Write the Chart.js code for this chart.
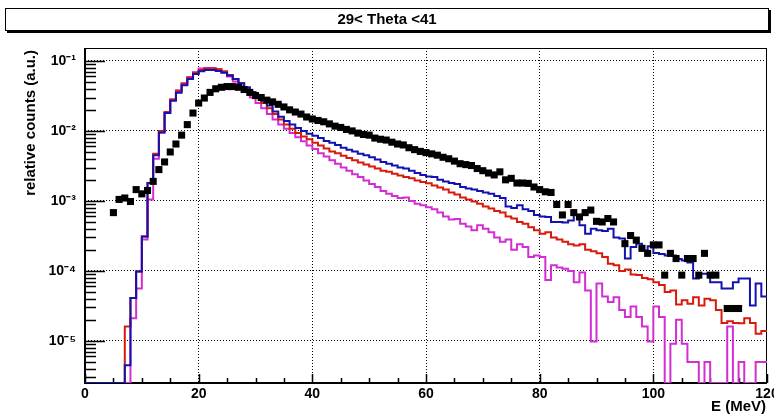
<!DOCTYPE html>
<html>
<head>
<meta charset="utf-8">
<script src="https://cdn.jsdelivr.net/npm/chart.js@4.4.1/dist/chart.umd.min.js"></script>
<style>
  html, body { margin: 0; padding: 0; background: #fff; }
  #wrap { width: 774px; height: 416px; }
</style>
</head>
<body>
<div id="wrap"><canvas id="spectrum" width="774" height="416"></canvas></div>
<script>
// axis ranges (MeV, relative counts)
const xMin = 0, xMax = 120;
const yMin = 2.5e-6, yMax = 0.153;
const decadeTicks = [1e-5, 1e-4, 1e-3, 1e-2, 1e-1];
const decadeLabels = ['10\u207B\u2075', '10\u207B\u2074', '10\u207B\u00B3', '10\u207B\u00B2', '10\u207B\u00B9'];
const xMajorTicks = [0, 20, 40, 60, 80, 100, 120];
const titleText = '29< Theta <41';

// 1 MeV bins starting at 0 MeV, 120 bins
const binStart = 0;
const blueCounts = [
  0, 0, 0, 0, 0, 0, 0, 4.5e-6, 4.1e-5, 9.8e-5,
  3.1e-4, 1.8e-3, 4.5e-3, 9.5e-3, 1.8e-2, 2.7e-2, 3.5e-2, 4.5e-2, 5.5e-2, 6.5e-2,
  7.1e-2, 7.4e-2, 7.4e-2, 7.2e-2, 6.8e-2, 6.2e-2, 5.5e-2, 4.8e-2, 4.2e-2, 3.6e-2,
  3.2e-2, 2.7e-2, 2.3e-2, 1.9e-2, 1.6e-2, 1.38e-2, 1.23e-2, 1.1e-2, 1.0e-2, 9.1e-3,
  8.5e-3, 7.9e-3, 7.2e-3, 6.8e-3, 6.3e-3, 5.75e-3, 5.4e-3, 5.1e-3, 4.7e-3, 4.5e-3,
  4.2e-3, 3.9e-3, 3.6e-3, 3.4e-3, 3.2e-3, 3.0e-3, 2.9e-3, 2.7e-3, 2.5e-3, 2.35e-3,
  2.24e-3, 2.2e-3, 2.0e-3, 1.9e-3, 1.8e-3, 1.74e-3, 1.58e-3, 1.5e-3, 1.45e-3, 1.38e-3,
  1.32e-3, 1.26e-3, 1.17e-3, 1.1e-3, 8.3e-4, 7.9e-4, 8.7e-4, 7.6e-4, 7.2e-4, 6.3e-4,
  6.0e-4, 5.9e-4, 5.0e-4, 5.0e-4, 4.9e-4, 5.25e-4, 6.3e-4, 4.5e-4, 3.4e-4, 4.0e-4,
  3.8e-4, 3.7e-4, 4.0e-4, 3.0e-4, 2.9e-4, 1.5e-4, 2.2e-4, 2.45e-4, 1.95e-4, 2.24e-4,
  1.8e-4, 1.74e-4, 1.66e-4, 1.66e-4, 1.48e-4, 1.41e-4, 1.32e-4, 7.8e-5, 9.1e-5, 9.1e-5,
  6.9e-5, 6.9e-5, 5.6e-5, 5.6e-5, 6.9e-5, 7.8e-5, 7.8e-5, 3.2e-5, 6.6e-5, 4.3e-5
];
const redCounts = [
  0, 0, 0, 0, 0, 0, 0, 1.6e-5, 4.1e-5, 9.8e-5,
  3.1e-4, 1.8e-3, 4.7e-3, 1.0e-2, 1.86e-2, 2.8e-2, 3.7e-2, 4.7e-2, 5.75e-2, 6.8e-2,
  7.4e-2, 7.8e-2, 7.8e-2, 7.6e-2, 7.1e-2, 6.3e-2, 5.5e-2, 4.8e-2, 4.1e-2, 3.5e-2,
  2.95e-2, 2.5e-2, 2.1e-2, 1.74e-2, 1.45e-2, 1.23e-2, 1.07e-2, 9.3e-3, 8.3e-3, 7.6e-3,
  6.8e-3, 6.2e-3, 5.6e-3, 5.1e-3, 4.8e-3, 4.4e-3, 4.1e-3, 3.8e-3, 3.55e-3, 3.3e-3,
  3.1e-3, 2.9e-3, 2.7e-3, 2.6e-3, 2.45e-3, 2.3e-3, 2.2e-3, 2.1e-3, 1.95e-3, 1.86e-3,
  1.78e-3, 1.66e-3, 1.55e-3, 1.45e-3, 1.32e-3, 1.23e-3, 1.12e-3, 1.05e-3, 9.8e-4, 9.1e-4,
  8.3e-4, 7.8e-4, 7.2e-4, 6.8e-4, 6.0e-4, 5.6e-4, 5.0e-4, 4.7e-4, 4.2e-4, 3.8e-4,
  3.4e-4, 3.55e-4, 3.0e-4, 2.8e-4, 2.6e-4, 2.4e-4, 2.3e-4, 2.4e-4, 2.0e-4, 1.9e-4,
  1.78e-4, 1.58e-4, 1.26e-4, 1.2e-4, 1.0e-4, 1.05e-4, 8.9e-5, 8.7e-5, 7.9e-5, 7.6e-5,
  6.9e-5, 6.3e-5, 5.0e-5, 5.25e-5, 3.3e-5, 3.8e-5, 3.4e-5, 4.2e-5, 3.2e-5, 4.0e-5,
  3.8e-5, 2.75e-5, 1.8e-5, 1.9e-5, 1.8e-5, 1.78e-5, 2.1e-5, 1.8e-5, 1.26e-5, 1.38e-5
];
const magentaCounts = [
  0, 0, 0, 0, 0, 0, 0, 0, 2.1e-5, 5.6e-5,
  2.8e-4, 1.05e-3, 4.0e-3, 9.5e-3, 1.8e-2, 2.8e-2, 3.8e-2, 4.8e-2, 5.9e-2, 6.9e-2,
  7.8e-2, 7.9e-2, 7.9e-2, 7.6e-2, 6.9e-2, 6.0e-2, 5.1e-2, 4.4e-2, 3.6e-2, 3.0e-2,
  2.5e-2, 2.1e-2, 1.74e-2, 1.45e-2, 1.23e-2, 1.07e-2, 9.3e-3, 8.1e-3, 7.1e-3, 6.2e-3,
  5.5e-3, 4.8e-3, 4.3e-3, 3.8e-3, 3.4e-3, 3.0e-3, 2.7e-3, 2.4e-3, 2.2e-3, 1.95e-3,
  1.74e-3, 1.58e-3, 1.38e-3, 1.26e-3, 1.17e-3, 1.1e-3, 1.12e-3, 1.0e-3, 9.1e-4, 8.7e-4,
  8.1e-4, 7.6e-4, 6.8e-4, 6.0e-4, 5.4e-4, 5.5e-4, 4.7e-4, 4.3e-4, 3.8e-4, 4.5e-4,
  4.0e-4, 3.55e-4, 3.0e-4, 2.6e-4, 2.8e-4, 2.0e-4, 2.4e-4, 2.2e-4, 1.58e-4, 1.66e-4,
  1.58e-4, 7.4e-5, 1.2e-4, 1.12e-4, 1.07e-4, 1.0e-4, 6.9e-5, 9.5e-5, 5.25e-5, 9.8e-6,
  6.6e-5, 4.3e-5, 3.6e-5, 4.2e-5, 2.75e-5, 2.2e-5, 3.1e-5, 2.2e-5, 1.6e-5, 9.8e-6,
  3.1e-5, 2.2e-5, 0, 9.1e-6, 2.0e-5, 9.1e-6, 5.0e-6, 5.0e-6, 0, 5.0e-6,
  0, 0, 0, 1.6e-5, 0, 5.0e-6, 0, 0, 5.0e-6, 5.0e-6
];

// measured points, one per MeV starting at 5 MeV (null = no entry)
const dataFirstE = 5;
const dataCounts = [
  6.8e-4, 1.05e-3, 1.1e-3, 9.8e-4, 1.45e-3, 1.26e-3, 1.41e-3, 1.9e-3, 2.8e-3, 3.6e-3,
  5.0e-3, 6.5e-3, 8.7e-3, 1.23e-2, 1.8e-2, 2.5e-2, 2.95e-2, 3.55e-2, 4.0e-2, 4.2e-2,
  4.3e-2, 4.3e-2, 4.2e-2, 3.9e-2, 3.55e-2, 3.2e-2, 3.0e-2, 2.75e-2, 2.6e-2, 2.4e-2,
  2.2e-2, 2.0e-2, 1.86e-2, 1.74e-2, 1.58e-2, 1.48e-2, 1.41e-2, 1.35e-2, 1.26e-2, 1.17e-2,
  1.12e-2, 1.05e-2, 1.0e-2, 9.3e-3, 8.9e-3, 8.7e-3, 7.9e-3, 7.6e-3, 7.4e-3, 6.9e-3,
  6.5e-3, 6.3e-3, 5.75e-3, 5.4e-3, 5.1e-3, 4.9e-3, 4.7e-3, 4.5e-3, 4.2e-3, 4.0e-3,
  3.7e-3, 3.4e-3, 3.3e-3, 3.2e-3, 2.9e-3, 2.7e-3, 2.5e-3, 2.35e-3, 2.6e-3, 2.0e-3,
  2.1e-3, 1.8e-3, 1.8e-3, 1.78e-3, 1.58e-3, 1.45e-3, 1.35e-3, 1.32e-3, 8.9e-4, 6.3e-4,
  8.9e-4, 6.8e-4, 5.9e-4, 6.8e-4, 7.4e-4, 5.1e-4, 5.0e-4, 5.6e-4, 5.0e-4, null,
  2.45e-4, 3.2e-4, 2.75e-4, 2.1e-4, 1.78e-4, 2.35e-4, 2.35e-4, 8.7e-5, 1.78e-4, 1.5e-4,
  8.7e-5, 1.5e-4, 1.5e-4, 8.7e-5, 1.78e-4, 8.7e-5, 8.7e-5, null, 2.9e-5, 2.9e-5,
  2.9e-5
];

const fontFamily = "'Liberation Sans', Arial, Helvetica, sans-serif";

// empty bins sit on the lower frame edge like in ROOT
function histPoints(counts) {
  const pts = counts.map((v, i) => ({ x: binStart + i, y: v > 0 ? v : yMin }));
  pts.push({ x: binStart + counts.length, y: pts[pts.length - 1].y });
  return pts;
}

const dataPoints = dataCounts.map((v, i) => ({ x: dataFirstE + i, y: v }));

// log axis tick positions: decades plus 2..9 sub-ticks
const yTickValues = [];
for (let e = -6; e <= -1; e++) {
  for (let m = 1; m <= 9; m++) {
    const v = m * Math.pow(10, e);
    if (v >= yMin && v <= yMax) yTickValues.push(Number(v.toPrecision(3)));
  }
}
const xTickValues = [];
for (let v = xMin; v <= xMax; v += 5) xTickValues.push(v);

function isDecade(v) {
  return decadeTicks.findIndex(d => Math.abs(v / d - 1) < 1e-6);
}

const rootStyle = {
  id: 'rootStyle',
  beforeDraw(chart) {
    const ctx = chart.ctx;
    ctx.save();
    ctx.fillStyle = '#fff';
    ctx.fillRect(0, 0, chart.width, chart.height);
    // title pave with shadow
    ctx.fillStyle = '#000';
    ctx.fillRect(7, 31, 764, 2);
    ctx.fillRect(769, 10, 2, 23);
    ctx.fillStyle = '#fff';
    ctx.fillRect(5, 8, 764, 23);
    ctx.strokeStyle = '#000';
    ctx.lineWidth = 1;
    ctx.strokeRect(5.5, 8.5, 763, 22);
    ctx.fillStyle = '#000';
    ctx.font = 'bold 15px ' + fontFamily;
    ctx.textAlign = 'center';
    ctx.textBaseline = 'middle';
    ctx.fillText(titleText, 387, 20);
    ctx.restore();
  },
  beforeDatasetsDraw(chart) {
    const ctx = chart.ctx;
    const a = chart.chartArea;
    const xs = chart.scales.x, ys = chart.scales.y;
    ctx.save();
    ctx.strokeStyle = '#000';
    ctx.lineWidth = 1;
    ctx.strokeRect(a.left + 0.5, a.top + 0.5, a.right - a.left - 1, a.bottom - a.top - 1);
    ctx.lineWidth = 2;
    ctx.beginPath();
    ctx.moveTo(a.left, a.top);
    ctx.lineTo(a.left, a.bottom);
    ctx.lineTo(a.right, a.bottom);
    ctx.stroke();
    ctx.lineWidth = 1.5;
    ctx.beginPath();
    yTickValues.forEach(v => {
      const y = Math.round(ys.getPixelForValue(v)) + 0.5;
      const len = isDecade(v) >= 0 ? 20 : 11;
      ctx.moveTo(a.left, y);
      ctx.lineTo(a.left + len, y);
    });
    xTickValues.forEach(v => {
      const x = Math.round(xs.getPixelForValue(v)) + 0.5;
      const len = v % 20 === 0 ? 9 : 5;
      ctx.moveTo(x, a.bottom);
      ctx.lineTo(x, a.bottom - len);
    });
    ctx.stroke();
    // axis titles
    ctx.fillStyle = '#000';
    ctx.font = 'bold 15px ' + fontFamily;
    ctx.textBaseline = 'middle';
    ctx.textAlign = 'right';
    ctx.fillText('E (MeV)', 766, 407);
    ctx.translate(31, 50);
    ctx.rotate(-Math.PI / 2);
    ctx.fillText('relative counts (a.u.)', 0, 0);
    ctx.restore();
  }
};

const chart = new Chart(document.getElementById('spectrum'), {
  type: 'line',
  data: {
    datasets: [
      {
        label: 'data',
        data: dataPoints,
        showLine: false,
        pointStyle: 'rect',
        pointRadius: 5,
        pointBorderWidth: 0,
        pointBackgroundColor: '#000',
        borderColor: '#000'
      },
      {
        label: 'blue',
        data: histPoints(blueCounts),
        stepped: 'before',
        borderColor: '#1212b0',
        borderWidth: 2,
        pointRadius: 0,
        fill: false
      },
      {
        label: 'red',
        data: histPoints(redCounts),
        stepped: 'before',
        borderColor: '#d81a0c',
        borderWidth: 2,
        pointRadius: 0,
        fill: false
      },
      {
        label: 'magenta',
        data: histPoints(magentaCounts),
        stepped: 'before',
        borderColor: '#d22ed2',
        borderWidth: 2,
        pointRadius: 0,
        fill: false
      }
    ]
  },
  options: {
    responsive: false,
    animation: false,
    layout: { padding: { top: 48, right: 7, bottom: 0, left: 0 } },
    plugins: {
      legend: { display: false },
      tooltip: { enabled: false },
      title: { display: false }
    },
    scales: {
      x: {
        type: 'linear',
        min: xMin,
        max: xMax,
        afterBuildTicks: (scale) => { scale.ticks = xTickValues.map(v => ({ value: v })); },
        afterFit: (scale) => { scale.height = 33; scale.paddingLeft = 0; scale.paddingRight = 0; },
        ticks: {
          autoSkip: false,
          maxRotation: 0,
          padding: 3,
          color: '#000',
          font: { family: fontFamily, size: 14, weight: 'bold' },
          callback: (v) => (xMajorTicks.includes(v) ? String(v) : '')
        },
        grid: {
          drawTicks: false,
          lineWidth: 1,
          color: (c) => (c.tick && c.tick.value % 20 === 0 && c.tick.value > xMin && c.tick.value < xMax) ? '#000' : 'rgba(0,0,0,0)'
        },
        border: { display: false, dash: [1, 2] }
      },
      y: {
        type: 'logarithmic',
        min: yMin,
        max: yMax,
        afterBuildTicks: (scale) => { scale.ticks = yTickValues.map(v => ({ value: v })); },
        afterFit: (scale) => { scale.width = 85; scale.paddingTop = 0; scale.paddingBottom = 0; },
        ticks: {
          autoSkip: false,
          padding: 9,
          color: '#000',
          font: { family: fontFamily, size: 14, weight: 'bold' },
          callback: (v) => { const k = isDecade(v); return k >= 0 ? decadeLabels[k] : ''; }
        },
        grid: {
          drawTicks: false,
          lineWidth: 1,
          color: (c) => (c.tick && isDecade(c.tick.value) >= 0) ? '#000' : 'rgba(0,0,0,0)'
        },
        border: { display: false, dash: [1, 2] }
      }
    }
  },
  plugins: [rootStyle]
});
</script>
</body>
</html>
